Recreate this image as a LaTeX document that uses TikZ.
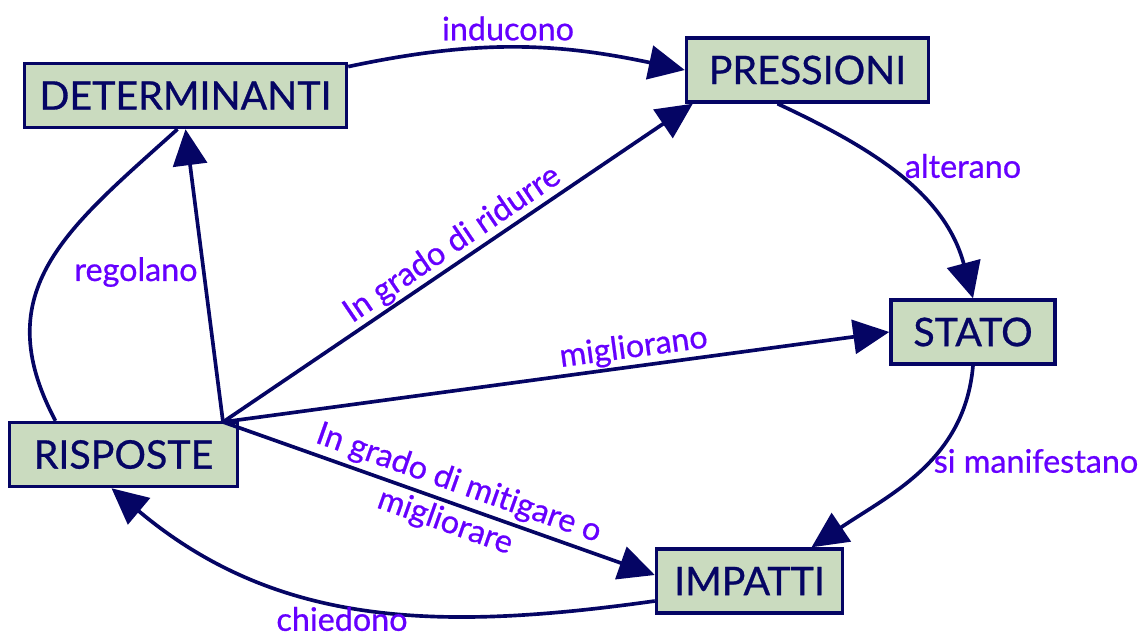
\documentclass[tikz,border=0pt]{standalone}
\usepackage{fontspec}
\setmainfont{Lato}
\newfontfamily\heavy{Lato}[FakeBold=0.7,Ligatures=NoCommon]
\usetikzlibrary{arrows.meta}
\definecolor{boxfill}{RGB}{202,219,191}
\definecolor{ink}{RGB}{5,5,100}
\definecolor{lab}{RGB}{102,0,255}
\tikzset{
  box/.style={draw=ink, fill=boxfill, line width=2.4pt, text=ink,
    font=\heavy\fontsize{28}{32}\selectfont, minimum height=1.6cm, inner sep=0pt},
  lbl/.style={text=lab, font=\heavy\fontsize{23}{29}\selectfont, inner sep=1pt},
  link/.style={draw=ink, line width=2.6pt, -{Triangle[length=0.9cm,width=0.85cm]}},
}
\begin{document}
\begin{tikzpicture}[x=0.025cm,y=-0.025cm]
      \useasboundingbox (0,0) rectangle (1143,633);
      \draw
        (185.5,95.5) node[box,minimum width=8.05cm] (D){DETERMINANTI}
        (807.5,70) node[box,minimum width=6.05cm] (P){PRESSIONI}
        (973,332) node[box,minimum width=4.1cm] (S){STATO}
        (749.5,581) node[box,minimum width=4.65cm] (I){IMPATTI}
        (123.5,454.5) node[box,minimum width=5.7cm] (R){RISPOSTE};
      \coordinate (hub) at (223,422);
      \begin{scope}[link]
        \draw ([yshift=-0.12cm]D.north east) to[out=12,in=168] (P.west);
        \draw ([xshift=-0.75cm]P.south) to[out=-25,in=105] (S.north);
        \draw (S.south) to[out=-95,in=34] ([xshift=1.55cm]I.north);
        \draw ([yshift=-0.5cm]I.west) to[out=188,in=-40] ([xshift=-0.3cm]R.south);
        \draw[-] ([xshift=-1.7cm]R.north) to[out=118,in=222,looseness=1.2] ([xshift=-0.2cm]D.south);
        \draw (hub) -- (D.south);
        \draw (hub) -- node[lbl,sloped,above,pos=0.51] (l1){In grado di ridurre} ([xshift=0.2cm]P.south west);
        \draw (hub) -- node[lbl,sloped,above,pos=0.62] (l2){migliorano} (S.west);
        \draw (hub) -- node[lbl,sloped,pos=0.53,align=center] (l3){In grado di mitigare o\\migliorare} ([yshift=0.15cm]I.west);
      \end{scope}
      \draw
        (508,28.5) node[lbl] (l4){inducono}
        (963,166) node[lbl] (l5){alterano}
        (1036,461) node[lbl] (l6){si manifestano}
        (342,619) node[lbl] (l7){chiedono}
        (136,272) node[lbl] (l8){regolano};
    \end{tikzpicture}
\end{document}
